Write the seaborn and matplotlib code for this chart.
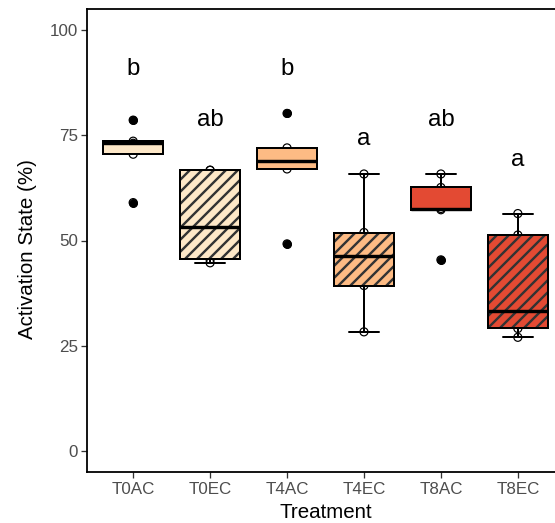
import matplotlib
matplotlib.use("Agg")
import matplotlib.pyplot as plt
from matplotlib.patches import PathPatch
import numpy as np
import pandas as pd
import seaborn as sns

# Activation state (%) per replicate for each treatment
treatments = ["T0AC", "T0EC", "T4AC", "T4EC", "T8AC", "T8EC"]
t0ac = [59.0, 70.5, 73.1, 73.6, 78.6]
t0ec = [44.7, 45.5, 53.3, 66.7, 66.7]
t4ac = [49.2, 67.0, 69.0, 72.0, 80.2]
t4ec = [28.3, 39.3, 46.2, 51.9, 65.8]
t8ac = [45.4, 57.3, 57.6, 62.6, 65.8]
t8ec = [27.0, 29.1, 33.3, 51.3, 56.4]

# Compact letter display from the post-hoc test, and where each letter sits
letters = ["b", "ab", "b", "a", "ab", "a"]
letter_y = [89.3, 77.2, 89.3, 72.7, 77.2, 67.7]

fill_colors = ["#FEE8C8", "#FEE8C8", "#FDBB84", "#FDBB84", "#E34A33", "#E34A33"]
hatched = [False, True, False, True, False, True]

values = [t0ac, t0ec, t4ac, t4ec, t8ac, t8ec]
df = pd.DataFrame({
    "Treatment": np.repeat(treatments, [len(v) for v in values]),
    "Activation": np.concatenate(values),
})

sns.set_theme(style="white")
plt.rcParams["font.family"] = ["Liberation Sans", "DejaVu Sans"]
plt.rcParams["hatch.linewidth"] = 2.4

DPI = 72
fig = plt.figure(figsize=(555 / DPI, 523 / DPI), dpi=DPI)
ax = fig.add_axes([87 / 555, 1 - 472 / 523, (564 - 87) / 555, (472 - 9) / 523])

# raw observations as open circles, sitting underneath the boxes
sns.stripplot(data=df, x="Treatment", y="Activation", order=treatments,
              jitter=False, color="black", size=8, linewidth=1.2,
              zorder=1, ax=ax)
for coll in ax.collections:
    coll.set_facecolor("none")
    coll.set_edgecolor("black")
    coll.set_linewidth(1.2)

sns.boxplot(data=df, x="Treatment", y="Activation", order=treatments,
            hue="Treatment", hue_order=treatments, palette=fill_colors,
            saturation=1, width=0.78, linecolor="black", linewidth=2.0,
            legend=False, ax=ax,
            medianprops=dict(linewidth=3.4, color="black"),
            flierprops=dict(marker="o", markerfacecolor="black",
                            markeredgecolor="black", markersize=8))

# diagonal hatching on the EC boxes
boxes = [p for p in ax.patches if isinstance(p, PathPatch)]
for box, h in zip(boxes, hatched):
    if not h:
        continue
    ax.add_patch(PathPatch(box.get_path(), transform=box.get_transform(),
                           facecolor="none", edgecolor="#333333", linewidth=0,
                           hatch="//", zorder=2.03))
    ax.add_patch(PathPatch(box.get_path(), transform=box.get_transform(),
                           facecolor="none", edgecolor="black", linewidth=2.0,
                           zorder=2.06))

for i, (lab, ly) in enumerate(zip(letters, letter_y)):
    ax.text(i, ly, lab, ha="center", va="baseline", fontsize=24, color="black")

ax.set_xlim(-0.6, 5.6)
ax.set_ylim(-5, 105)
ax.set_yticks([0, 25, 50, 75, 100])

for side in ["left", "bottom", "top", "right"]:
    ax.spines[side].set_visible(True)
    ax.spines[side].set_color("black")
    ax.spines[side].set_linewidth(1.8)

ax.tick_params(axis="both", which="major", length=6, width=1.3,
               color="#333333", labelcolor="#4D4D4D", labelsize=17, pad=3,
               left=True, bottom=True)
ax.tick_params(axis="x", pad=4)

ax.set_xlabel("Treatment", fontsize=20.5, color="black", labelpad=6)
ax.set_ylabel("Activation State (%)", fontsize=20.5, color="black")
ax.yaxis.set_label_coords(-0.105, 0.4816)
ax.grid(False)

fig.savefig("out.png", dpi=DPI)
